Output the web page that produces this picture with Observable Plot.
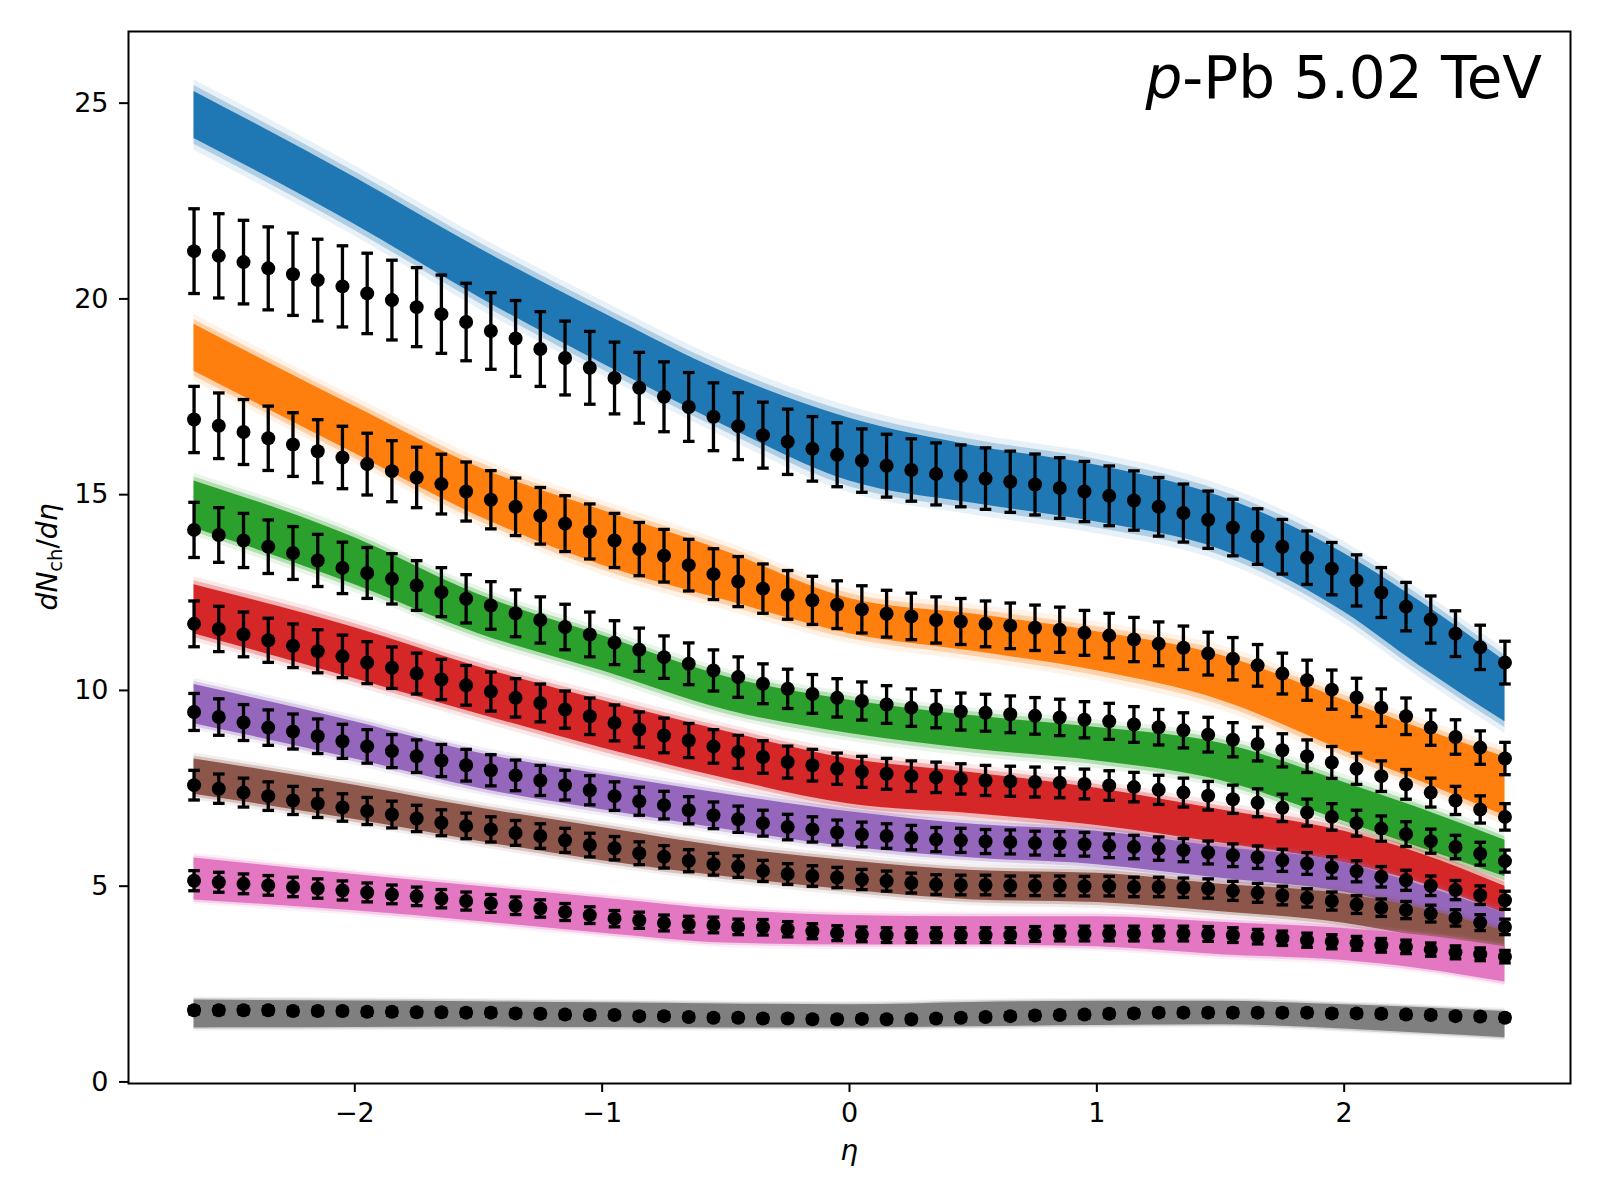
<!DOCTYPE html>
<html>
<head>
<meta charset="utf-8">
<script src="https://cdn.jsdelivr.net/npm/d3@7"></script>
<script src="https://cdn.jsdelivr.net/npm/@observablehq/plot@0.6"></script>
<style>
  html, body { margin: 0; padding: 0; background: #fff; }
  #chart { position: absolute; left: 0; top: 0; width: 1600px; height: 1200px; }
</style>
</head>
<body>
<div id="chart"></div>
<script>
// ---------- data ----------
const etaBins = [-2.65,-2.55,-2.45,-2.35,-2.25,-2.15,-2.05,-1.95,-1.85,-1.75,-1.65,-1.55,-1.45,-1.35,-1.25,-1.15,-1.05,-0.95,-0.85,-0.75,-0.65,-0.55,-0.45,-0.35,-0.25,-0.15,-0.05,
                 0.05,0.15,0.25,0.35,0.45,0.55,0.65,0.75,0.85,0.95,1.05,1.15,1.25,1.35,1.45,1.55,1.65,1.75,1.85,1.95,2.05,2.15,2.25,2.35,2.45,2.55,2.65];

const dataBlue   = [21.22,21.10,20.94,20.78,20.63,20.48,20.32,20.14,19.97,19.79,19.61,19.41,19.18,18.99,18.72,18.49,18.24,17.98,17.73,17.50,17.24,16.99,16.75,16.52,16.35,16.17,16.02,
                    15.87,15.74,15.63,15.53,15.48,15.41,15.33,15.26,15.17,15.08,14.97,14.85,14.69,14.53,14.36,14.16,13.93,13.67,13.39,13.11,12.81,12.50,12.14,11.81,11.45,11.10,10.71];
const dataOrange = [16.92,16.76,16.60,16.44,16.28,16.11,15.95,15.78,15.60,15.44,15.27,15.08,14.87,14.69,14.46,14.26,14.06,13.83,13.61,13.44,13.20,12.97,12.78,12.60,12.44,12.30,12.19,
                    12.07,11.96,11.89,11.80,11.76,11.70,11.65,11.60,11.55,11.47,11.40,11.30,11.19,11.09,10.94,10.81,10.64,10.43,10.26,10.02,9.82,9.56,9.34,9.05,8.81,8.54,8.26];
const dataGreen  = [14.10,13.97,13.83,13.67,13.51,13.32,13.13,13.00,12.85,12.68,12.51,12.34,12.17,11.97,11.80,11.62,11.43,11.22,11.04,10.85,10.68,10.51,10.34,10.17,10.04,9.91,9.81,
                    9.73,9.64,9.56,9.52,9.46,9.43,9.39,9.35,9.31,9.25,9.21,9.13,9.06,8.98,8.87,8.74,8.63,8.47,8.32,8.16,8.00,7.81,7.60,7.39,7.19,6.96,6.77];
const dataRed    = [11.70,11.57,11.43,11.28,11.14,11.00,10.87,10.71,10.58,10.43,10.28,10.13,9.97,9.81,9.68,9.51,9.34,9.17,9.00,8.85,8.72,8.57,8.43,8.30,8.17,8.09,8.00,
                    7.92,7.87,7.81,7.78,7.74,7.70,7.68,7.66,7.64,7.61,7.57,7.53,7.46,7.39,7.31,7.22,7.13,7.00,6.88,6.77,6.61,6.47,6.33,6.15,6.00,5.83,5.64];
const dataPurple = [9.45,9.32,9.18,9.05,8.95,8.83,8.70,8.57,8.45,8.32,8.21,8.09,7.96,7.83,7.70,7.58,7.45,7.30,7.17,7.07,6.94,6.81,6.71,6.61,6.51,6.45,6.37,
                    6.32,6.28,6.24,6.19,6.17,6.14,6.13,6.10,6.09,6.07,6.03,6.00,5.96,5.92,5.86,5.79,5.74,5.66,5.58,5.48,5.38,5.24,5.15,5.01,4.90,4.77,4.64];
const dataBrown  = [7.58,7.49,7.39,7.30,7.19,7.11,7.01,6.92,6.83,6.73,6.62,6.54,6.45,6.36,6.28,6.17,6.05,5.97,5.84,5.75,5.65,5.56,5.50,5.39,5.31,5.26,5.22,
                    5.17,5.13,5.08,5.04,5.03,5.03,5.01,5.01,5.01,5.00,5.00,4.98,4.98,4.96,4.94,4.88,4.83,4.76,4.70,4.62,4.53,4.45,4.39,4.30,4.19,4.07,3.96];
const dataPink   = [5.14,5.10,5.06,5.02,4.98,4.94,4.89,4.84,4.79,4.74,4.68,4.62,4.56,4.50,4.43,4.34,4.26,4.17,4.13,4.06,4.03,4.01,3.96,3.95,3.90,3.85,3.80,
                    3.77,3.75,3.75,3.75,3.75,3.75,3.75,3.78,3.79,3.79,3.79,3.79,3.79,3.79,3.78,3.75,3.71,3.67,3.62,3.58,3.54,3.49,3.45,3.38,3.31,3.26,3.20];
const dataGray   = [1.83,1.83,1.83,1.83,1.81,1.81,1.81,1.79,1.79,1.78,1.78,1.77,1.77,1.75,1.74,1.72,1.71,1.71,1.68,1.68,1.66,1.64,1.64,1.62,1.62,1.60,1.60,
                    1.61,1.60,1.60,1.62,1.64,1.66,1.68,1.70,1.71,1.72,1.74,1.75,1.77,1.77,1.77,1.77,1.77,1.77,1.77,1.75,1.75,1.74,1.72,1.71,1.68,1.67,1.64];

// relative error (error bar half-height / value), read per class
const errFrac = [0.051, 0.050, 0.050, 0.050, 0.050, 0.050, 0.050, 0.050];

// model bands: lower / upper edge of the dense core, read at these eta values
const bandEta = [-2.65,-2.0,-1.5,-1.0,-0.5,0,0.5,1.0,1.5,2.0,2.3,2.65];
const bandLoBlue   = [24.10,21.90,20.05,18.35,16.75,15.35,14.78,14.30,13.60,12.00,10.65,9.20];
const bandHiBlue   = [25.30,23.10,21.30,19.65,18.10,16.95,16.25,15.75,14.95,13.50,12.30,10.75];
const bandLoOrange = [18.15,16.05,14.45,13.20,12.30,11.45,11.00,10.50,9.75,8.45,7.70,6.80];
const bandHiOrange = [19.35,17.25,15.70,14.60,13.55,12.35,11.95,11.50,10.90,9.75,9.05,8.30];
const bandLoGreen  = [14.15,12.70,11.45,10.50,9.50,8.90,8.50,8.20,7.70,6.65,6.00,5.24];
const bandHiGreen  = [15.35,13.90,12.45,11.40,10.35,9.75,9.35,9.05,8.65,7.65,7.00,6.17];
const bandLoRed    = [11.45,10.30,9.40,8.53,7.75,7.10,6.85,6.55,6.10,5.60,5.10,4.30];
const bandHiRed    = [12.70,11.60,10.60,9.74,8.95,8.25,7.90,7.50,6.95,6.40,5.85,5.00];
const bandLoPurple = [9.15,8.25,7.50,6.95,6.45,6.00,5.72,5.55,5.20,4.85,4.40,3.78];
const bandHiPurple = [10.15,9.20,8.40,7.85,7.35,6.90,6.58,6.40,6.00,5.60,5.05,4.30];
const bandLoBrown  = [7.35,6.70,6.15,5.65,5.24,4.90,4.65,4.58,4.35,4.05,3.70,3.10];
const bandHiBrown  = [8.25,7.58,7.00,6.50,6.00,5.65,5.40,5.33,5.05,4.80,4.45,3.85];
const bandLoPink   = [4.65,4.37,4.10,3.80,3.55,3.50,3.50,3.45,3.25,3.10,2.90,2.55];
const bandHiPink   = [5.72,5.30,5.00,4.70,4.40,4.25,4.22,4.22,4.08,3.92,3.75,3.45];
const bandLoGray   = [1.38,1.39,1.40,1.39,1.38,1.38,1.41,1.44,1.46,1.35,1.25,1.13];
const bandHiGray   = [2.09,2.07,2.05,2.02,1.99,1.97,2.03,2.06,2.06,1.97,1.90,1.80];

const xTicks = [-2,-1,0,1,2];
const yTicks = [0,5,10,15,20,25];

// ---------- styles ----------
const colors = ["#1f77b4","#ff7f0e","#2ca02c","#d62728","#9467bd","#8c564b","#e377c2","#7f7f7f"];
const haloWidth = [0.30,0.25,0.20,0.20,0.16,0.15,0.12,0.08];

// ---------- build tables ----------
const seriesValues = [dataBlue,dataOrange,dataGreen,dataRed,dataPurple,dataBrown,dataPink,dataGray];
const bandLos = [bandLoBlue,bandLoOrange,bandLoGreen,bandLoRed,bandLoPurple,bandLoBrown,bandLoPink,bandLoGray];
const bandHis = [bandHiBlue,bandHiOrange,bandHiGreen,bandHiRed,bandHiPurple,bandHiBrown,bandHiPink,bandHiGray];

const points = [];
seriesValues.forEach((vals, i) => vals.forEach((v, j) => {
  const e = v * errFrac[i];
  points.push({s: i, eta: etaBins[j], v, lo: v - e, hi: v + e});
}));

const capSymbol = {
  draw(ctx, size) {
    const w = Math.sqrt(size / Math.PI);
    ctx.moveTo(-w, 0);
    ctx.lineTo(w, 0);
  }
};

const marks = [];
bandLos.forEach((los, i) => {
  const b = los.map((lo, j) => ({eta: bandEta[j], lo, hi: bandHis[i][j]}));
  const h = haloWidth[i];
  marks.push(Plot.areaY(b, {x: "eta", y1: d => d.lo - h, y2: d => d.hi + h, fill: colors[i], fillOpacity: 0.10, curve: "monotone-x"}));
  marks.push(Plot.areaY(b, {x: "eta", y1: d => d.lo - h * 0.5, y2: d => d.hi + h * 0.5, fill: colors[i], fillOpacity: 0.28, curve: "monotone-x"}));
  marks.push(Plot.areaY(b, {x: "eta", y1: "lo", y2: "hi", fill: colors[i], fillOpacity: 1, curve: "monotone-x"}));
});

marks.push(Plot.ruleX(points, {x: "eta", y1: "lo", y2: "hi", stroke: "black", strokeWidth: 3.3}));
marks.push(Plot.dot(points, {x: "eta", y: "lo", symbol: capSymbol, r: 5.8, stroke: "black", strokeWidth: 3.3, fill: "none"}));
marks.push(Plot.dot(points, {x: "eta", y: "hi", symbol: capSymbol, r: 5.8, stroke: "black", strokeWidth: 3.3, fill: "none"}));
marks.push(Plot.dot(points, {x: "eta", y: "v", r: 7, fill: "black", stroke: "none"}));

const fmt = d => (d < 0 ? "\u2212" + Math.abs(d) : String(d));
marks.push(Plot.axisX({ticks: xTicks, tickSize: 9, tickPadding: 10, tickFormat: fmt, fontSize: 27, label: null, strokeWidth: 2}));
marks.push(Plot.axisY({ticks: yTicks, tickSize: 9, tickPadding: 11, tickFormat: fmt, fontSize: 27, label: null, strokeWidth: 2}));
marks.push(Plot.frame({stroke: "black", strokeWidth: 2}));

const chart = Plot.plot({
  width: 1600,
  height: 1200,
  marginLeft: 128,
  marginRight: 30,
  marginTop: 31,
  marginBottom: 117,
  x: {domain: [-2.915, 2.915]},
  y: {domain: [-0.04, 26.83]},
  style: {fontFamily: "'DejaVu Sans', sans-serif", fontSize: "27px", color: "black", background: "white", overflow: "visible"},
  marks
});

document.getElementById("chart").appendChild(chart);

// ---------- labels (real text) ----------
const svg = d3.select(chart);
const xs = chart.scale("x"), ys = chart.scale("y");

// x label
svg.append("text")
  .attr("x", xs.apply(0)).attr("y", 1160)
  .attr("text-anchor", "middle")
  .attr("font-family", "'DejaVu Sans', sans-serif")
  .attr("font-size", 28)
  .attr("font-style", "italic")
  .attr("fill", "black")
  .text("η");

// y label with subscript
const yl = svg.append("text")
  .attr("transform", `translate(57,${(ys.apply(ys.domain[0]) + ys.apply(ys.domain[1])) / 2}) rotate(-90)`)
  .attr("text-anchor", "middle")
  .attr("font-family", "'DejaVu Sans', sans-serif")
  .attr("font-size", 28)
  .attr("fill", "black");
yl.append("tspan").attr("font-style", "italic").text("dN");
yl.append("tspan").attr("font-size", 19.5).attr("dy", 5).text("ch");
yl.append("tspan").attr("dy", -5).text("/");
yl.append("tspan").attr("font-style", "italic").text("dη");

// in-plot title
const tt = svg.append("text")
  .attr("x", 1542).attr("y", 98)
  .attr("text-anchor", "end")
  .attr("font-family", "'DejaVu Sans', sans-serif")
  .attr("font-size", 58)
  .attr("fill", "black");
tt.append("tspan").attr("font-style", "italic").text("p");
tt.append("tspan").text("-Pb 5.02 TeV");
</script>
</body>
</html>
